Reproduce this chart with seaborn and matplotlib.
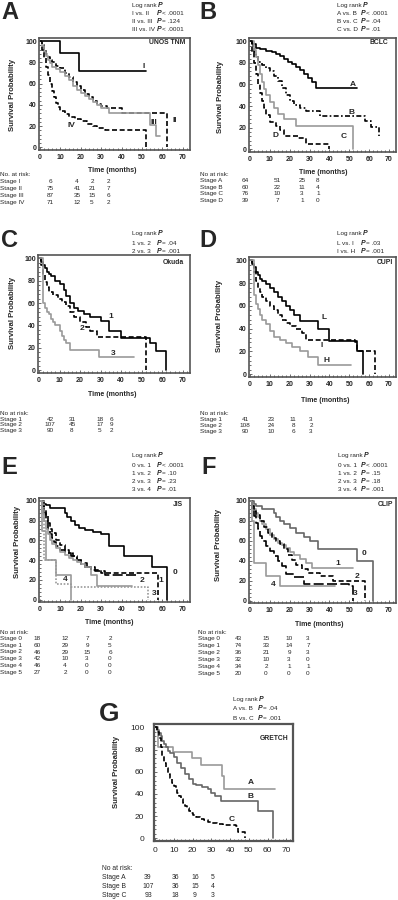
import matplotlib
matplotlib.use("Agg")
import matplotlib.pyplot as plt
import seaborn as sns

W, H = 398, 900

# ---------------- survival curves (months, % surviving) ----------------
# A  UNOS TNM
a_I_t = [0, 10, 19, 52]
a_I_s = [100, 89, 72, 72]
a_II_t = [0, 1, 2, 3, 4, 5, 6, 8, 10, 12, 14, 16, 18, 20, 22, 24, 26, 28, 30, 33, 40, 62]
a_II_s = [100, 96, 92, 88, 85, 82, 80, 77, 75, 70, 66, 62, 58, 54, 50, 47, 44, 41, 39, 37, 32, 0]
a_III_t = [0, 1, 2, 3, 4, 5, 6, 8, 10, 12, 14, 16, 18, 20, 22, 24, 26, 28, 30, 34, 54, 57, 59]
a_III_s = [100, 95, 90, 86, 82, 79, 76, 74, 71, 67, 63, 58, 54, 51, 48, 46, 43, 40, 37, 32, 21, 11, 11]
a_IV_t = [0, 1, 2, 3, 4, 5, 6, 7, 8, 9, 10, 12, 14, 17, 20, 23, 26, 28, 32, 52]
a_IV_s = [100, 92, 84, 76, 68, 60, 53, 47, 42, 38, 34, 31, 29, 27, 25, 22, 20, 18, 16, 0]

# B  BCLC
b_A_t = [0, 1, 3, 5, 8, 11, 13, 15, 17, 19, 21, 23, 25, 27, 29, 31, 33, 54]
b_A_s = [100, 97, 94, 93, 91, 90, 88, 86, 84, 81, 79, 76, 73, 70, 66, 62, 57, 57]
b_B_t = [0, 1, 2, 3, 4, 6, 8, 10, 12, 14, 16, 18, 20, 22, 25, 28, 35, 55, 58, 61, 65]
b_B_s = [100, 96, 90, 85, 81, 78, 75, 72, 68, 63, 57, 50, 45, 41, 38, 35, 31, 31, 26, 21, 12]
b_C_t = [0, 2, 3, 4, 5, 6, 7, 8, 10, 12, 14, 17, 23, 52]
b_C_s = [100, 92, 85, 78, 70, 62, 56, 50, 44, 38, 33, 28, 22, 0]
b_D_t = [0, 1, 2, 3, 4, 5, 6, 7, 8, 10, 13, 15, 17, 24, 28, 40]
b_D_s = [100, 90, 80, 70, 60, 52, 45, 38, 32, 25, 22, 18, 12, 10, 5, 0]

# C  Okuda
c_1_t = [0, 1, 2, 3, 4, 5, 6, 8, 10, 12, 13, 15, 17, 19, 22, 25, 30, 34, 40, 54, 57, 62]
c_1_s = [100, 97, 94, 91, 88, 86, 84, 80, 77, 72, 66, 60, 56, 53, 50, 48, 44, 35, 29, 24, 17, 0]
c_2_t = [0, 1, 2, 3, 4, 5, 7, 9, 11, 13, 15, 17, 20, 23, 25, 28, 52]
c_2_s = [100, 94, 86, 79, 74, 70, 67, 64, 61, 57, 52, 48, 43, 39, 35, 30, 0]
c_3_t = [0, 2, 3, 4, 5, 6, 7, 8, 10, 11, 12, 13, 15, 29, 46]
c_3_s = [100, 60, 56, 52, 50, 46, 43, 40, 35, 31, 27, 24, 18, 12, 12]

# D  CUPI
d_L_t = [0, 1, 2, 3, 4, 5, 6, 8, 10, 12, 14, 16, 18, 20, 22, 25, 34, 40, 54, 57]
d_L_s = [100, 97, 94, 90, 87, 84, 82, 79, 76, 72, 68, 64, 60, 56, 52, 47, 40, 29, 20, 0]
d_I_t = [0, 1, 2, 3, 4, 5, 6, 8, 10, 12, 14, 16, 18, 20, 23, 26, 28, 53, 54, 63]
d_I_s = [100, 96, 90, 82, 76, 72, 68, 64, 60, 56, 52, 48, 45, 42, 40, 36, 30, 28, 20, 0]
d_H_t = [0, 2, 3, 4, 5, 6, 8, 10, 12, 15, 18, 21, 25, 29, 34, 51]
d_H_s = [100, 70, 62, 57, 52, 48, 44, 38, 33, 30, 27, 24, 20, 15, 8, 8]

# E  JIS
e_0_t = [0, 2, 3, 5, 12, 13, 15, 17, 19, 22, 26, 30, 34, 41, 55, 62]
e_0_s = [100, 97, 96, 93, 88, 84, 80, 76, 73, 71, 69, 66, 54, 44, 33, 0]
e_1_t = [0, 1, 2, 3, 4, 5, 6, 8, 10, 12, 14, 16, 18, 20, 22, 25, 30, 58]
e_1_s = [100, 96, 92, 85, 78, 72, 67, 60, 55, 50, 47, 44, 40, 36, 33, 30, 27, 0]
e_2_t = [0, 1, 2, 3, 4, 5, 6, 7, 8, 10, 12, 15, 18, 20, 23, 27, 32, 48]
e_2_s = [100, 95, 88, 80, 72, 66, 62, 58, 54, 50, 47, 44, 40, 37, 33, 29, 25, 25]
e_3_t = [0, 1, 2, 3, 4, 5, 6, 8, 10, 12, 14, 16, 18, 20, 22, 25, 28, 45]
e_3_s = [100, 88, 80, 72, 66, 60, 56, 52, 48, 45, 42, 40, 38, 36, 33, 25, 14, 14]
e_4_t = [0, 2, 8, 15, 50, 53]
e_4_s = [100, 40, 16, 13, 13, 0]
e_5_t = [0, 1, 3, 8, 15]
e_5_s = [100, 70, 40, 25, 0]

# F  CLIP
f_0_t = [0, 2, 3, 6, 12, 13, 15, 17, 20, 23, 27, 30, 34, 54, 62]
f_0_s = [100, 97, 95, 92, 88, 84, 80, 77, 73, 68, 64, 60, 52, 40, 0]
f_1_t = [0, 1, 2, 3, 4, 5, 6, 8, 10, 12, 14, 16, 18, 20, 22, 25, 28, 31, 52]
f_1_s = [100, 96, 92, 88, 84, 80, 77, 72, 66, 62, 58, 56, 53, 49, 46, 42, 38, 33, 33]
f_2_t = [0, 1, 2, 3, 5, 7, 9, 11, 13, 15, 17, 19, 21, 23, 26, 29, 35, 42, 58]
f_2_s = [100, 95, 90, 86, 80, 74, 68, 63, 60, 57, 52, 46, 41, 36, 32, 28, 25, 20, 0]
f_3_t = [0, 1, 2, 3, 4, 5, 6, 8, 10, 12, 14, 16, 18, 22, 27, 50, 52]
f_3_s = [100, 92, 85, 78, 72, 65, 60, 55, 50, 45, 40, 35, 27, 24, 17, 15, 0]
f_4_t = [0, 1, 2, 8, 15, 43]
f_4_s = [100, 80, 38, 25, 15, 15]

# G  GRETCH
g_A_t = [0, 1.5, 9.5, 19.5, 24.5, 35.5, 37, 64]
g_A_s = [100, 82, 78, 72, 66, 56, 44, 44]
g_B_t = [0, 1, 2, 3, 4, 5, 6, 7, 8, 10, 12, 14, 16, 18, 20, 22, 25, 28, 30, 32, 35, 55, 63]
g_B_s = [100, 98, 95, 92, 88, 85, 82, 79, 77, 73, 68, 63, 58, 53, 49, 48, 46, 44, 41, 38, 34, 25, 0]
g_C_t = [0, 1, 2, 3, 4, 5, 6, 7, 8, 9, 10, 11, 12, 13, 14, 15, 16, 17, 18, 19, 20, 22, 24, 26,
         28, 30, 33, 36, 40, 43, 44, 48]
g_C_s = [100, 96, 90, 82, 74, 68, 63, 58, 54, 50, 47, 44, 41, 38, 35, 32, 29, 27, 25, 23, 21, 19,
         17, 16, 15, 14, 13, 12, 12, 11, 6, 0]

# ---------------- numbers at risk ----------------
a_stages = ["Stage I", "Stage II", "Stage III", "Stage IV"]
a_risk = [[6, 4, 2, 2], [75, 41, 21, 7], [87, 35, 15, 6], [71, 12, 5, 2]]
b_stages = ["Stage A", "Stage B", "Stage C", "Stage D"]
b_risk = [[64, 51, 25, 8], [60, 22, 11, 4], [76, 10, 3, 1], [39, 7, 1, 0]]
c_stages = ["Stage 1", "Stage 2", "Stage 3"]
c_risk = [[42, 31, 18, 6], [107, 45, 17, 9], [90, 8, 5, 2]]
d_stages = ["Stage 1", "Stage 2", "Stage 3"]
d_risk = [[41, 23, 11, 3], [108, 24, 8, 2], [90, 10, 6, 3]]
e_stages = ["Stage 0", "Stage 1", "Stage 2", "Stage 3", "Stage 4", "Stage 5"]
e_risk = [[18, 12, 7, 2], [60, 29, 9, 5], [46, 29, 15, 6], [42, 10, 3, 0], [46, 4, 0, 0], [27, 2, 0, 0]]
f_stages = ["Stage 0", "Stage 1", "Stage 2", "Stage 3", "Stage 4", "Stage 5"]
f_risk = [[43, 15, 10, 3], [74, 33, 14, 7], [36, 21, 9, 3], [32, 10, 3, 0], [34, 2, 1, 1], [20, 0, 0, 0]]
g_stages = ["Stage A", "Stage B", "Stage C"]
g_risk = [[39, 36, 16, 5], [107, 36, 15, 4], [93, 18, 9, 3]]

# ---------------- log rank tests ----------------
a_tests = [("I vs. II", "< .0001"), ("II vs. III", "= .124"), ("III vs. IV", "< .0001")]
b_tests = [("A vs. B", "< .0001"), ("B vs. C", "= .04"), ("C vs. D", "= .01")]
c_tests = [("1 vs. 2", "= .04"), ("2 vs. 3", "= .001")]
d_tests = [("L vs. I", "= .03"), ("I vs. H", "= .001")]
e_tests = [("0 vs. 1", "< .0001"), ("1 vs. 2", "= .10"), ("2 vs. 3", "= .23"), ("3 vs. 4", "= .01")]
f_tests = [("0 vs. 1", "< .0001"), ("1 vs. 2", "= .15"), ("2 vs. 3", "= .18"), ("3 vs. 4", "= .001")]
g_tests = [("A vs. B", "= .04"), ("B vs. C", "= .001")]

sns.set_theme(style="white")
plt.rcParams["font.family"] = ["Liberation Sans", "DejaVu Sans"]

GRAY = "#9a9a9a"
FRAME = "#555555"
SOLID = dict(color="black", linestyle="-")
GSOLID = dict(color=GRAY, linestyle="-")
DSOLID = dict(color="#666666", linestyle="-")
DASH = dict(color="black", linestyle=(0, (3, 1.6)))
LDASH = dict(color="black", linestyle=(0, (6, 2)))
DDOT = dict(color="black", linestyle=(0, (3, 1.4, 1, 1.4)))
GDOT = dict(color=GRAY, linestyle=(0, (1, 1)))

fig = plt.figure(figsize=(W / 100, H / 100), dpi=100)
fig.patch.set_facecolor("white")


def ftext(x, y, s, **kw):
    kw.setdefault("va", "baseline")
    kw.setdefault("fontsize", 4.6)
    fig.text(x / W, 1 - y / H, s, **kw)


def km(ax, t, s, style, lw=1.2):
    sns.lineplot(x=t, y=s, ax=ax, drawstyle="steps-post", estimator=None,
                 sort=False, linewidth=lw, **style)


def make_axes(box):
    l, t, r, b = box
    return fig.add_axes([l / W, 1 - b / H, (r - l) / W, (b - t) / H])


def finish_axes(ax, bold=True, size=5, xpad=3.2, ypad=1.5, frame_lw=1.2):
    ax.set_xlim(-0.5, 73.5)
    ax.set_ylim(-2.5, 103)
    w = "bold" if bold else "normal"
    xt = list(range(0, 71, 10))
    yt = list(range(0, 101, 20))
    ax.set_xticks(xt, [str(v) for v in xt], fontweight=w, fontsize=size)
    ax.set_yticks(yt, [str(v) for v in yt], fontweight=w, fontsize=size)
    ax.set_xticks(list(range(0, 73, 2)), minor=True)
    ax.set_yticks(list(range(0, 101, 4)), minor=True)
    ax.tick_params(which="both", direction="in", color=FRAME, width=0.6,
                   bottom=True, left=True)
    ax.tick_params(which="major", length=2.5)
    ax.tick_params(which="minor", length=1.5)
    ax.tick_params(axis="x", pad=xpad)
    ax.tick_params(axis="y", pad=ypad)
    ax.set_xlabel("")
    ax.set_ylabel("")
    for sp in ax.spines.values():
        sp.set_color(FRAME)
        sp.set_linewidth(frame_lw)


def curve_labels(ax, labels, size=6):
    for txt, x, y in labels:
        ax.text(x, y, txt, fontsize=size, fontweight="bold", ha="center", va="center")


def logrank(x, y0, y1, tests, xp, dy=8, size=4.6):
    # y values are text centres; baseline sits ~1.6 px lower
    b = 1.6
    ftext(x, y0 + b, "Log rank", fontsize=size)
    ftext(x + 25.5, y0 + b, "P", fontsize=size + 0.4, fontweight="bold", fontstyle="italic")
    for i, (cmp_, val) in enumerate(tests):
        y = y1 + dy * i + b
        ftext(x, y, cmp_, fontsize=size)
        ftext(xp, y, "P", fontsize=size + 0.4, fontweight="bold", fontstyle="italic")
        ftext(xp + 5.2, y, val, fontsize=size)


def risk_table(x, y0, header, y1, dy, stages, rows, cols, size=4.6):
    b = 1.6
    ftext(x, y0 + b, header, fontsize=size)
    for i, (st, vals) in enumerate(zip(stages, rows)):
        y = y1 + dy * i + b
        ftext(x, y, st, fontsize=size)
        for c, v in zip(cols, vals):
            ftext(c, y, str(v), fontsize=size, ha="center")


def titles(letter_xy, name, name_xy, ylab_xy, xlab_xy=None, lsize=17):
    ftext(letter_xy[0], letter_xy[1], letter_xy[2], fontsize=lsize, fontweight="bold", va="top")
    ftext(name_xy[0], name_xy[1], name, fontsize=4.9, fontweight="bold", ha="right",
          va="center")
    ftext(ylab_xy[0], ylab_xy[1], "Survival Probability", fontsize=5.6,
          fontweight="bold", rotation=90, ha="center", va="center")
    if xlab_xy is not None:
        ftext(xlab_xy[0], xlab_xy[1], "Time (months)", fontsize=5.0,
              fontweight="bold", ha="center", va="center")


# ---- Panel A ----
ax = make_axes((39, 38, 190, 150))
km(ax, a_I_t, a_I_s, SOLID)
km(ax, a_II_t, a_II_s, DASH)
km(ax, a_III_t, a_III_s, GSOLID)
km(ax, a_IV_t, a_IV_s, DASH)
finish_axes(ax)
curve_labels(ax, [("I", 51, 76), ("II", 66, 25), ("III", 56, 23), ("IV", 15.4, 20.5)])
titles((1, 1, "A"), "UNOS TNM", (185, 42), (13, 95), (112, 171))
logrank(132, 5, 13, a_tests, 157)
risk_table(0, 174, "No. at risk:", 181, 7, a_stages, a_risk, [50, 77, 92, 108])

# ---- Panel B ----
ax = make_axes((249, 38, 396, 152))
km(ax, b_A_t, b_A_s, SOLID)
km(ax, b_B_t, b_B_s, DDOT)
km(ax, b_C_t, b_C_s, GSOLID)
km(ax, b_D_t, b_D_s, DASH)
finish_axes(ax)
curve_labels(ax, [("A", 51.6, 60), ("B", 51, 34), ("C", 47, 12), ("D", 13, 13)])
titles((199, 1, "B"), "BCLC", (388, 42), (221, 97), (323, 173))
logrank(337, 5, 13, b_tests, 361)
risk_table(200, 174, "No at risk:", 180.5, 6.5, b_stages, b_risk, [245, 277, 302, 318])

# ---- Panel C ----
ax = make_axes((38, 255, 190, 373))
km(ax, c_1_t, c_1_s, SOLID)
km(ax, c_2_t, c_2_s, DASH)
km(ax, c_3_t, c_3_s, GSOLID)
finish_axes(ax)
curve_labels(ax, [("1", 35, 48), ("2", 21, 37), ("3", 36, 14.5)])
titles((1, 229, "C"), "Okuda", (184, 262), (13, 313), (112, 394))
logrank(132, 233, 243, c_tests, 157)
risk_table(0, 413, "No at risk:", 419, 5.8, c_stages, c_risk, [50, 72, 100, 111])

# ---- Panel D ----
ax = make_axes((249, 257, 396, 377))
km(ax, d_L_t, d_L_s, SOLID)
km(ax, d_I_t, d_I_s, DASH)
km(ax, d_H_t, d_H_s, GSOLID)
finish_axes(ax)
curve_labels(ax, [("L", 37.3, 50), ("I", 36, 25.5), ("H", 38.4, 12)])
titles((199, 229, "D"), "CUPI", (393, 262), (220, 316), (325, 400))
logrank(337, 233, 243, d_tests, 361)
risk_table(200, 413, "No at risk:", 419, 6, d_stages, d_risk, [245, 271, 293, 311])

# ---- Panel E ----
ax = make_axes((39, 498, 190, 602))
km(ax, e_0_t, e_0_s, SOLID)
km(ax, e_1_t, e_1_s, DASH)
km(ax, e_2_t, e_2_s, LDASH)
km(ax, e_3_t, e_3_s, GSOLID)
km(ax, e_4_t, e_4_s, GDOT)
km(ax, e_5_t, e_5_s, GSOLID)
finish_axes(ax)
curve_labels(ax, [("0", 66, 27), ("1", 59.3, 19), ("2", 49.8, 19.5), ("3", 55.7, 6.5), ("4", 12.4, 20)])
titles((1, 456, "E"), "JIS", (183, 505), (18, 542), (109, 623))
logrank(132, 455, 465, e_tests, 157)
risk_table(0, 632, "No at risk:", 638.5, 6.7, e_stages, e_risk, [37, 65, 87, 110])

# ---- Panel F ----
ax = make_axes((249, 498, 396, 603))
km(ax, f_0_t, f_0_s, DSOLID)
km(ax, f_1_t, f_1_s, GSOLID)
km(ax, f_2_t, f_2_s, DASH)
km(ax, f_3_t, f_3_s, LDASH)
km(ax, f_4_t, f_4_s, GSOLID)
finish_axes(ax)
curve_labels(ax, [("0", 57.3, 47), ("1", 44.3, 37), ("2", 54, 24.4), ("3", 52.8, 7.5), ("4", 11.5, 16.3)])
titles((201, 456, "F"), "CLIP", (393, 505), (219, 545), (319, 624))
logrank(338, 455, 465, f_tests, 361)
risk_table(198, 632, "No at risk:", 638.5, 7, f_stages, f_risk, [238, 266, 289, 308])

# ---- Panel G ----
ax = make_axes((154, 724, 293, 841))
km(ax, g_A_t, g_A_s, GSOLID)
km(ax, g_B_t, g_B_s, DSOLID)
km(ax, g_C_t, g_C_s, DASH)
finish_axes(ax, bold=False, size=6, xpad=4.5, ypad=7, frame_lw=1.6)
curve_labels(ax, [("A", 51, 50), ("B", 51, 38), ("C", 41, 17)])
titles((99, 702, "G"), "GRETCH", (288, 738), (116, 772), None, lsize=19)
logrank(233, 699, 708, g_tests, 258, dy=10)
risk_table(102, 868, "No at risk:", 877, 9, g_stages, g_risk, [148, 175, 195, 213], size=4.9)

fig.savefig("out.png", dpi=100, facecolor="white")
